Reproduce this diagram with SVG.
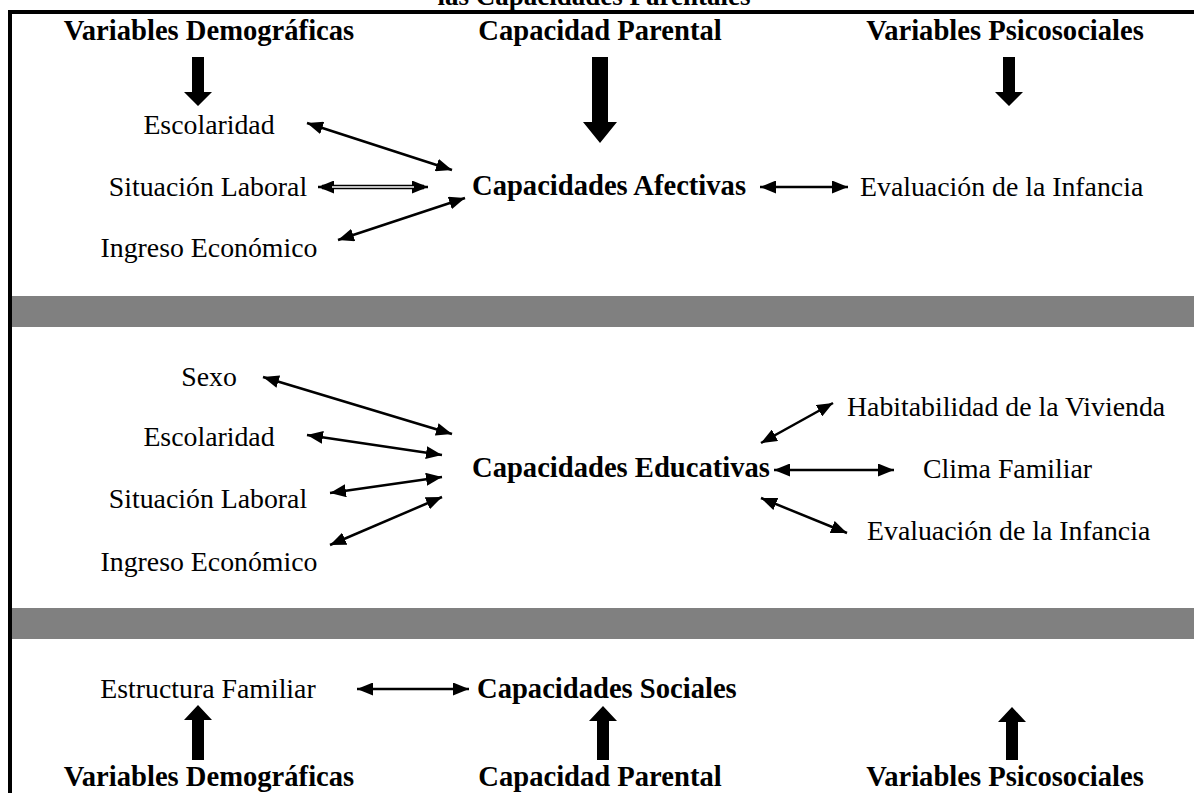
<svg xmlns="http://www.w3.org/2000/svg" width="1194" height="793" viewBox="0 0 1194 793">
<style>
.t{font-family:"Liberation Serif","Times New Roman",serif;font-size:27.8px;fill:#000}
.b{font-family:"Liberation Serif","Times New Roman",serif;font-size:28.6px;font-weight:bold;fill:#000}
.c{text-anchor:middle}
.ln{stroke:#000;stroke-width:2.5;fill:none;marker-start:url(#ah);marker-end:url(#ah)}
.blk{fill:#000}
.band{fill:#808080}
</style>
<defs>
<marker id="ah" viewBox="0 0 16 13" refX="16" refY="6.5" markerWidth="16" markerHeight="13" orient="auto-start-reverse" markerUnits="userSpaceOnUse"><path d="M0,0 L16,6.5 L0,13 z" fill="#000"/></marker>
</defs>
<rect width="1194" height="793" fill="#fff"/>
<g id="frame">
<text class="b c" x="594" y="5" style="font-size:27px">las Capacidades Parentales</text>
<rect x="8" y="10" width="1186" height="4" fill="#000"/>
<rect x="8" y="10" width="4" height="783" fill="#000"/>
<rect class="band" x="12" y="296" width="1182" height="31"/>
<rect class="band" x="12" y="608" width="1182" height="31"/>
</g>
<g id="top-headers">
<text class="b c" x="209" y="40">Variables Demográficas</text>
<text class="b c" x="600" y="40">Capacidad Parental</text>
<text class="b c" x="1005" y="40">Variables Psicosociales</text>
<polygon class="blk" points="192,57 204,57 204,92 212,92 198,106 184,92 192,92"/>
<polygon class="blk" points="592,57 608,57 608,122 617,122 600,143 583,122 592,122"/>
<polygon class="blk" points="1003,57 1015,57 1015,92 1023,92 1009,106 995,92 1003,92"/>
</g>
<g id="afectivas">
<text class="b" x="472" y="195">Capacidades Afectivas</text>
</g>
<g id="afectivas-vars">
<text class="t c" x="209" y="134">Escolaridad</text>
<text class="t c" x="208" y="196">Situación Laboral</text>
<text class="t c" x="209" y="257">Ingreso Económico</text>
<text class="t" x="860" y="196">Evaluación de la Infancia</text>
</g>
<g id="educativas">
<text class="b" x="472" y="477">Capacidades Educativas</text>
</g>
<g id="educativas-vars">
<text class="t c" x="209" y="386">Sexo</text>
<text class="t c" x="209" y="446">Escolaridad</text>
<text class="t c" x="208" y="508">Situación Laboral</text>
<text class="t c" x="209" y="571">Ingreso Económico</text>
<text class="t" x="847" y="416">Habitabilidad de la Vivienda</text>
<text class="t" x="923" y="478">Clima Familiar</text>
<text class="t" x="867" y="540">Evaluación de la Infancia</text>
</g>
<g id="sociales">
<text class="b" x="477" y="698">Capacidades Sociales</text>
<text class="t c" x="208" y="698">Estructura Familiar</text>
</g>
<g id="bottom-headers">
<polygon class="blk" points="198,705 212,720 204,720 204,760 192,760 192,720 184,720"/>
<polygon class="blk" points="603,706 617,721 609,721 609,760 597,760 597,721 589,721"/>
<polygon class="blk" points="1012,707 1026,722 1018,722 1018,760 1006,760 1006,722 998,722"/>
<text class="b c" x="209" y="786">Variables Demográficas</text>
<text class="b c" x="600" y="786">Capacidad Parental</text>
<text class="b c" x="1005" y="786">Variables Psicosociales</text>
</g>
<g id="connectors">
<line class="ln" x1="307" y1="123" x2="452" y2="170"/>
<line x1="322" y1="187" x2="424" y2="187" stroke="#000" stroke-width="4.5"/>
<line class="ln" x1="318" y1="187" x2="428" y2="187"/>
<line x1="332" y1="187" x2="414" y2="187" stroke="#fff" stroke-width="1.3"/>
<line class="ln" x1="338" y1="240" x2="465" y2="198"/>
<line class="ln" x1="760" y1="187" x2="848" y2="187"/>
<line class="ln" x1="263" y1="377" x2="452" y2="434"/>
<line class="ln" x1="307" y1="435" x2="442" y2="455"/>
<line class="ln" x1="330" y1="493" x2="442" y2="477"/>
<line class="ln" x1="330" y1="545" x2="442" y2="497"/>
<line class="ln" x1="761" y1="443" x2="833" y2="403"/>
<line class="ln" x1="774" y1="470" x2="894" y2="470"/>
<line class="ln" x1="761" y1="498" x2="847" y2="533"/>
<line class="ln" x1="357" y1="689" x2="469" y2="689"/>
</g>
</svg>
